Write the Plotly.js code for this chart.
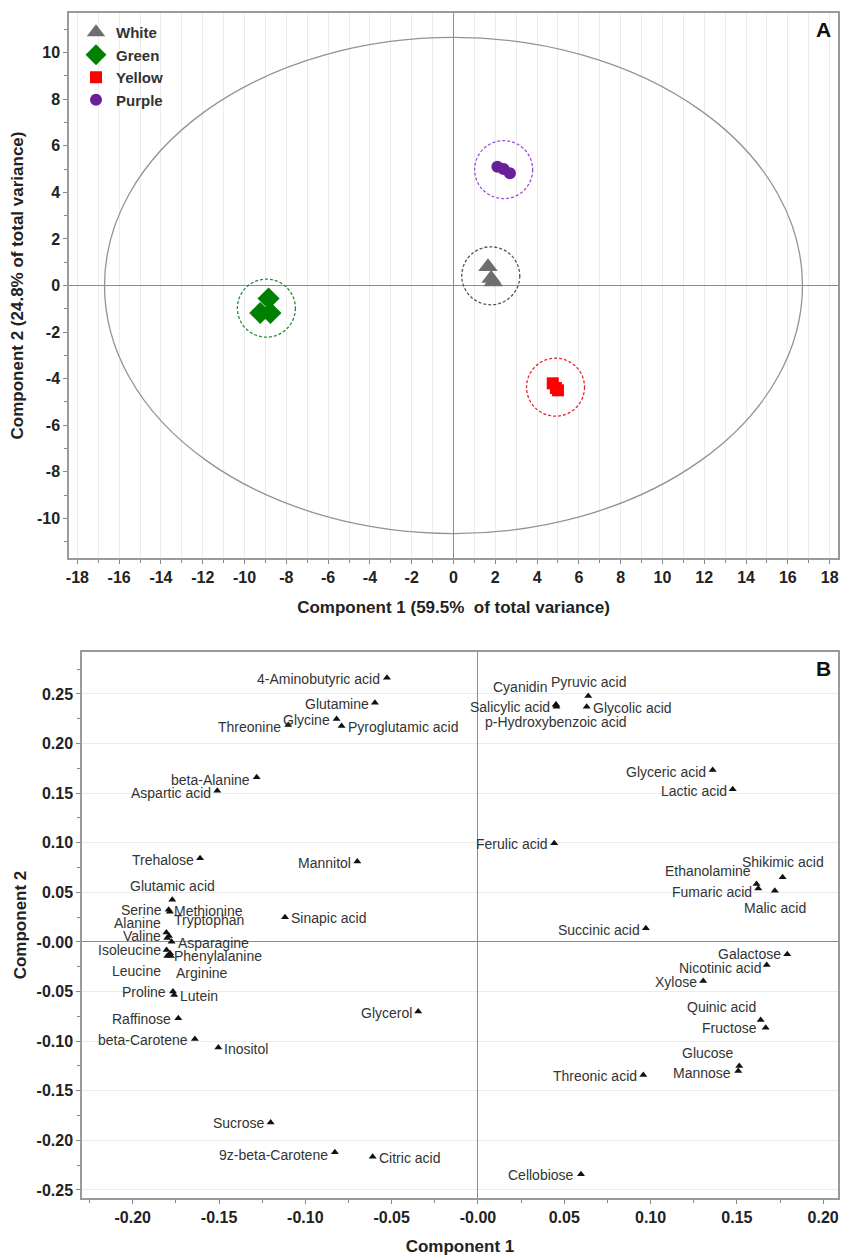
<!DOCTYPE html>
<html><head><meta charset="utf-8">
<script src="https://cdn.plot.ly/plotly-3.0.1.min.js"></script>
<style>html,body{margin:0;padding:0;background:#fff}</style>
</head><body><div id="chart" style="width:843px;height:1257px"></div>
<script>
// ---------- Panel A: PCA scores ----------
const groupNames = ['White', 'Green', 'Yellow', 'Purple'];
const whiteX  = [1.65, 1.90, 1.80];
const whiteY  = [0.80, 0.15, 0.30];
const greenX  = [-8.85, -9.25, -8.76];
const greenY  = [-0.56, -1.18, -1.18];
const yellowX = [4.75, 5.00, 4.90];
const yellowY = [-4.20, -4.50, -4.40];
const purpleX = [2.10, 2.40, 2.70];
const purpleY = [5.10, 5.00, 4.82];
const ellipseRx = 16.7;   // Hotelling T2 ellipse semi-axes
const ellipseRy = 10.65;
const aXTicks = [-18,-16,-14,-12,-10,-8,-6,-4,-2,0,2,4,6,8,10,12,14,16,18];
const aYTicks = [-10,-8,-6,-4,-2,0,2,4,6,8,10];

// ---------- Panel B: loadings ----------
const metabolites = ['4-Aminobutyric acid','Glutamine','Threonine','Glycine','Pyroglutamic acid','beta-Alanine','Aspartic acid','Trehalose','Mannitol','Glutamic acid','Serine','Methionine','Tryptophan','Alanine','Valine','Asparagine','Isoleucine','Phenylalanine','Leucine','Arginine','Proline','Lutein','Raffinose','beta-Carotene','Inositol','Sucrose','9z-beta-Carotene','Citric acid','Glycerol','Sinapic acid','Cyanidin','Salicylic acid','p-Hydroxybenzoic acid','Pyruvic acid','Glycolic acid','Glyceric acid','Lactic acid','Ferulic acid','Shikimic acid','Ethanolamine','Fumaric acid','Malic acid','Succinic acid','Galactose','Nicotinic acid','Xylose','Quinic acid','Fructose','Glucose','Mannose','Threonic acid','Cellobiose'];
const loading1 = [-0.0527,-0.0597,-0.1099,-0.0819,-0.0790,-0.1282,-0.1510,-0.1610,-0.0699,-0.1771,-0.1792,-0.1785,-0.1790,-0.1805,-0.1800,-0.1775,-0.1804,-0.1784,-0.1800,-0.1779,-0.1767,-0.1760,-0.1736,-0.1640,-0.1504,-0.1201,-0.0829,-0.0610,-0.0346,-0.1118,0.0452,0.0452,0.0455,0.0639,0.0630,0.1360,0.1476,0.0442,0.1765,0.1614,0.1624,0.1720,0.0973,0.1792,0.1673,0.1305,0.1638,0.1667,0.1514,0.1508,0.0958,0.0597];
const loading2 = [0.2664,0.2412,0.2188,0.2248,0.2177,0.1660,0.1525,0.0843,0.0810,0.0425,0.0325,0.0305,0.0060,0.0095,0.0040,0.0003,-0.0081,-0.0114,-0.0141,-0.0141,-0.0500,-0.0534,-0.0769,-0.0978,-0.1065,-0.1821,-0.2120,-0.2164,-0.0702,0.0249,0.2395,0.2389,0.2370,0.2480,0.2372,0.1734,0.1539,0.0995,0.0652,0.0585,0.0540,0.0517,0.0138,-0.0124,-0.0232,-0.0393,-0.0786,-0.0864,-0.1250,-0.1300,-0.1341,-0.2342];
const bXTickVals = [-0.20,-0.15,-0.10,-0.05,0,0.05,0.10,0.15,0.20];
const bXTickText = ['-0.20','-0.15','-0.10','-0.05','-0.00','0.05','0.10','0.15','0.20'];
const bYTickVals = [-0.25,-0.20,-0.15,-0.10,-0.05,0,0.05,0.10,0.15,0.20,0.25];
const bYTickText = ['-0.25','-0.20','-0.15','-0.10','-0.05','-0.00','0.05','0.10','0.15','0.20','0.25'];

// ---------- styling ----------
const W = 843, H = 1257;
const FONT = 'Liberation Sans, Arial, sans-serif';
const TXT = '#222';
const GRID = '#ececec';
const LINE = '#9a9a9a';
const px = v => v / W;
const py = v => 1 - v / H;

// label placement for loadings: [xanchor, xshift, yshift]
const labelPlace = {
  '4-Aminobutyric acid':['right',-6,-1],'Glutamine':['right',-5,-1],'Threonine':['right',-6,-2],
  'Glycine':['right',-6,-1],'Pyroglutamic acid':['left',5,-1],'beta-Alanine':['right',-6,-3],
  'Aspartic acid':['right',-5,-2],'Trehalose':['right',-5,-2],'Mannitol':['right',-5,-1],
  'Glutamic acid':['center',0,14],'Serine':['right',-6,0],'Methionine':['left',3,1],
  'Tryptophan':['left',4,16],'Alanine':['right',-4,10],'Valine':['right',-5,2],
  'Asparagine':['left',5,-1],'Isoleucine':['right',-5,0],'Phenylalanine':['left',3,-3],
  'Leucine':['right',-5,-15],'Arginine':['left',4,-17],'Proline':['right',-6,0],
  'Lutein':['left',5,-1],'Raffinose':['right',-6,-1],'beta-Carotene':['right',-6,-1],
  'Inositol':['left',5,-1],'Sucrose':['right',-5,0],'9z-beta-Carotene':['right',-6,-3],
  'Citric acid':['left',5,-1],'Glycerol':['right',-5,-1],'Sinapic acid':['left',5,-1],
  'Cyanidin':['right',-8,17],'Salicylic acid':['right',-5,-2],'p-Hydroxybenzoic acid':['center',0,-15],
  'Pyruvic acid':['center',0,14],'Glycolic acid':['left',5,-1],'Glyceric acid':['right',-6,-2],
  'Lactic acid':['right',-5,-2],'Ferulic acid':['right',-5,-1],'Shikimic acid':['center',0,15],
  'Ethanolamine':['right',-5,13],'Fumaric acid':['right',-5,-4],'Malic acid':['center',0,-17],
  'Succinic acid':['right',-5,-2],'Galactose':['right',-5,0],'Nicotinic acid':['right',-5,-3],
  'Xylose':['right',-5,-1],'Quinic acid':['right',-4,13],'Fructose':['right',-8,0],
  'Glucose':['right',-4,13],'Mannose':['right',-6,-2],'Threonic acid':['right',-5,-1],
  'Cellobiose':['right',-6,-1]
};

const groupStyle = {
  White:  {symbol:'triangle-up', color:'#6e6e6e', size:17, ring:'#555555'},
  Green:  {symbol:'diamond',     color:'#008000', size:17, ring:'#1e8c3a'},
  Yellow: {symbol:'square',      color:'#ff0000', size:12, ring:'#e8282c'},
  Purple: {symbol:'circle',      color:'#6a1f9a', size:12, ring:'#9b4fd0'}
};
const groupData = {
  White: [whiteX, whiteY], Green: [greenX, greenY],
  Yellow: [yellowX, yellowY], Purple: [purpleX, purpleY]
};

const mean = a => a.reduce((s, v) => s + v, 0) / a.length;

const traces = groupNames.map(g => ({
  type: 'scatter', mode: 'markers', name: g,
  x: groupData[g][0], y: groupData[g][1], xaxis: 'x', yaxis: 'y',
  marker: {symbol: groupStyle[g].symbol, color: groupStyle[g].color, size: groupStyle[g].size, line: {width: 0}},
  hoverinfo: 'x+y+name'
}));
traces.push({
  type: 'scatter', mode: 'markers', name: 'Loadings', showlegend: false,
  x: loading1, y: loading2, text: metabolites, xaxis: 'x2', yaxis: 'y2',
  marker: {symbol: 'triangle-up', color: '#111', size: 7}, hoverinfo: 'text+x+y'
});

const shapes = [{
  type: 'circle', xref: 'x', yref: 'y',
  x0: -ellipseRx, x1: ellipseRx, y0: -ellipseRy, y1: ellipseRy,
  line: {color: '#939393', width: 1.3}
}];
groupNames.forEach(g => {
  shapes.push({
    type: 'circle', xref: 'x', yref: 'y', xsizemode: 'pixel', ysizemode: 'pixel',
    xanchor: mean(groupData[g][0]), yanchor: mean(groupData[g][1]),
    x0: -29, x1: 29, y0: -29, y1: 29,
    line: {color: groupStyle[g].ring, width: 1.3, dash: '3px,2px'}
  });
});

const annotations = [
  {text: 'A', xref: 'paper', yref: 'paper', x: px(833), y: py(29), xanchor: 'right', yanchor: 'middle',
   showarrow: false, font: {family: FONT, size: 21, weight: 700, color: '#111'}},
  {text: 'B', xref: 'paper', yref: 'paper', x: px(833), y: py(669), xanchor: 'right', yanchor: 'middle',
   showarrow: false, font: {family: FONT, size: 21, weight: 700, color: '#111'}}
];
metabolites.forEach((m, i) => {
  const p = labelPlace[m] || ['right', -5, -1];
  annotations.push({
    text: m, xref: 'x2', yref: 'y2', x: loading1[i], y: loading2[i],
    xanchor: p[0], yanchor: 'middle', xshift: p[1], yshift: p[2],
    showarrow: false, borderpad: 0,
    font: {family: FONT, size: 14, color: '#333'}
  });
});

const tickFont = {family: FONT, size: 16, weight: 700, color: TXT};
const titleFont = {family: FONT, size: 17, weight: 700, color: TXT};
const baseAxis = {
  showline: true, mirror: true, linecolor: LINE, linewidth: 1.5,
  ticks: 'outside', ticklen: 4, tickcolor: '#888', tickwidth: 1,
  tickfont: tickFont, zeroline: true, zerolinecolor: '#8c8c8c', zerolinewidth: 1.3,
  automargin: false, fixedrange: true
};

const layout = {
  width: W, height: H,
  margin: {l: 0, r: 0, t: 0, b: 0},
  paper_bgcolor: '#fff', plot_bgcolor: '#fff',
  font: {family: FONT, color: TXT},
  showlegend: true,
  legend: {x: px(76), y: py(16), xanchor: 'left', yanchor: 'top',
           bgcolor: 'rgba(0,0,0,0)', borderwidth: 0, tracegroupgap: 0,
           font: {family: FONT, size: 15, weight: 700, color: '#333'}},
  xaxis: Object.assign({}, baseAxis, {
    domain: [px(69), px(838)], anchor: 'y', range: [-18.4, 18.4],
    tickmode: 'array', tickvals: aXTicks, ticktext: aXTicks.map(String),
    showgrid: true, gridcolor: GRID,
    minor: {tickmode: 'linear', tick0: 0, dtick: 1, ticks: 'outside', ticklen: 3, tickcolor: '#888', showgrid: true, gridcolor: GRID},
    title: {text: 'Component 1 (59.5%\u00a0 of total variance)', font: titleFont, standoff: 16}
  }),
  yaxis: Object.assign({}, baseAxis, {
    domain: [py(558), py(13)], anchor: 'x', range: [-11.7, 11.7],
    tickmode: 'array', tickvals: aYTicks, ticktext: aYTicks.map(String),
    showgrid: false,
    minor: {tickmode: 'linear', tick0: 0, dtick: 1, ticks: 'outside', ticklen: 3, tickcolor: '#888', showgrid: false},
    title: {text: 'Component 2 (24.8% of total variance)', font: titleFont, standoff: 9}
  }),
  yaxis3: {
    overlaying: 'y', anchor: 'x', range: [-11.7, 11.7], side: 'left',
    tickmode: 'linear', tick0: 0, dtick: 2.5, showgrid: true, gridcolor: GRID,
    showticklabels: false, ticks: '', showline: false, zeroline: false, fixedrange: true
  },
  xaxis2: Object.assign({}, baseAxis, {
    domain: [px(82), px(838)], anchor: 'y2', range: [-0.2294, 0.2086],
    tickmode: 'array', tickvals: bXTickVals, ticktext: bXTickText,
    showgrid: false,
    minor: {tickmode: 'linear', tick0: 0, dtick: 0.025, ticks: 'outside', ticklen: 3, tickcolor: '#888', showgrid: false},
    title: {text: 'Component 1', font: titleFont, standoff: 15}
  }),
  yaxis2: Object.assign({}, baseAxis, {
    domain: [py(1198), py(652)], anchor: 'x2', range: [-0.2581, 0.2923],
    tickmode: 'array', tickvals: bYTickVals, ticktext: bYTickText,
    showgrid: true, gridcolor: GRID,
    minor: {tickmode: 'linear', tick0: 0, dtick: 0.025, ticks: 'outside', ticklen: 3, tickcolor: '#888', showgrid: false},
    title: {text: 'Component 2', font: titleFont, standoff: 6}
  }),
  xaxis3: {
    overlaying: 'x2', anchor: 'y2', range: [-0.2294, 0.2086],
    tickmode: 'linear', tick0: 0, dtick: 0.01, showgrid: true, gridcolor: GRID,
    showticklabels: false, ticks: '', showline: false, zeroline: false, fixedrange: true
  },
  shapes: shapes,
  annotations: annotations
};

Plotly.newPlot('chart', traces, layout, {displayModeBar: false, responsive: false});
</script></body></html>
